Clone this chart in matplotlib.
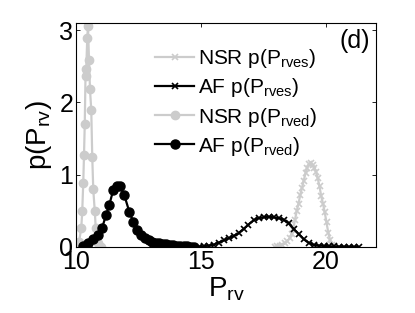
import matplotlib
matplotlib.use('Agg')
import matplotlib.pyplot as plt

plt.rcParams['font.family'] = ['Liberation Sans', 'DejaVu Sans']
plt.rcParams['mathtext.fontset'] = 'custom'
plt.rcParams['mathtext.rm'] = 'Liberation Sans'
plt.rcParams['mathtext.it'] = 'Liberation Sans:italic'

# NSR p(P_rves), grey crosses
nsr_es_x = [17.95, 18.05, 18.15, 18.25, 18.35, 18.45, 18.55, 18.62, 18.69, 18.76,
            18.83, 18.90, 18.97, 19.04, 19.11, 19.18, 19.25, 19.32, 19.39, 19.46,
            19.53, 19.60, 19.67, 19.74, 19.81, 19.88, 19.95, 20.02, 20.09, 20.16, 20.23]
nsr_es_y = [0.0, 0.01, 0.02, 0.03, 0.05, 0.08, 0.12, 0.18, 0.25, 0.38,
            0.50, 0.60, 0.72, 0.82, 0.92, 1.02, 1.10, 1.15, 1.16, 1.14,
            1.10, 1.04, 0.95, 0.84, 0.70, 0.60, 0.48, 0.34, 0.20, 0.10, 0.03]

# AF p(P_rves), black crosses
af_es_x = [14.7, 14.9, 15.1, 15.3, 15.5, 15.7, 15.9, 16.1, 16.3, 16.5, 16.7, 16.9,
           17.1, 17.3, 17.5, 17.7, 17.9, 18.1, 18.3, 18.5, 18.7, 18.9, 19.1, 19.3,
           19.5, 19.7, 19.9, 20.1, 20.3, 20.5, 20.7, 20.9, 21.1, 21.3]
af_es_y = [0.003, 0.005, 0.01, 0.02, 0.03, 0.06, 0.09, 0.12, 0.15, 0.19, 0.25, 0.31,
           0.37, 0.40, 0.41, 0.42, 0.41, 0.40, 0.38, 0.33, 0.25, 0.18, 0.11, 0.06,
           0.03, 0.02, 0.015, 0.01, 0.008, 0.006, 0.005, 0.004, 0.003, 0.002]

# NSR p(P_rved), grey circles
nsr_ed_x = [10.05, 10.12, 10.21, 10.25, 10.29, 10.32, 10.35, 10.38, 10.41, 10.45,
            10.48, 10.52, 10.56, 10.61, 10.65, 10.69, 10.75, 10.79, 10.88, 10.98]
nsr_ed_y = [0.0, 0.07, 0.26, 0.50, 0.89, 1.27, 1.70, 2.36, 2.47, 2.89,
            3.06, 2.59, 2.18, 1.90, 1.25, 0.80, 0.50, 0.26, 0.05, 0.0]

# AF p(P_rved), black circles
af_ed_x = [10.27, 10.47, 10.67, 10.87, 11.04, 11.20, 11.33, 11.49, 11.63, 11.76,
           11.93, 12.13, 12.29, 12.45, 12.60, 12.75, 12.90, 13.04, 13.18, 13.32,
           13.46, 13.60, 13.74, 13.88, 14.02, 14.16, 14.30, 14.44, 14.58, 14.72]
af_ed_y = [0.01, 0.06, 0.11, 0.17, 0.26, 0.44, 0.58, 0.79, 0.84, 0.84,
           0.72, 0.49, 0.35, 0.23, 0.16, 0.12, 0.09, 0.07, 0.06, 0.05,
           0.04, 0.035, 0.03, 0.025, 0.02, 0.015, 0.012, 0.01, 0.006, 0.003]

grey = (0.8, 0.8, 0.8)

fig = plt.figure(figsize=(4.15, 3.13), dpi=100)
ax = fig.add_axes([76 / 415, 66 / 313, 300 / 415, 224 / 313])

ax.plot(nsr_es_x, nsr_es_y, '-x', color=grey, lw=1.6, ms=5, mew=1.2,
        label=r'NSR p($\mathregular{P_{rves}}$)')
ax.plot(af_es_x, af_es_y, '-x', color='black', lw=1.6, ms=5, mew=1.2,
        label=r'AF p($\mathregular{P_{rves}}$)')
ax.plot(nsr_ed_x, nsr_ed_y, '-o', color=grey, lw=1.6, ms=6,
        label=r'NSR p($\mathregular{P_{rved}}$)')
ax.plot(af_ed_x, af_ed_y, '-o', color='black', lw=1.6, ms=6.5,
        label=r'AF p($\mathregular{P_{rved}}$)')

ax.set_xlim(10, 22)
ax.set_ylim(0, 3.1)
ax.set_xticks([10, 15, 20])
ax.set_yticks([0, 1, 2, 3])
ax.tick_params(direction='in', length=3, width=0.6, labelsize=18, pad=2,
               top=True, right=True)
for s in ax.spines.values():
    s.set_linewidth(0.8)

ax.set_xlabel(r'$\mathregular{P_{rv}}$', fontsize=20, labelpad=1)
ax.set_ylabel(r'p($\mathregular{P_{rv}}$)', fontsize=20, labelpad=4)

ax.text(0.98, 0.975, '(d)', transform=ax.transAxes, ha='right', va='top',
        fontsize=18)

ax.legend(loc='upper left', bbox_to_anchor=(0.235, 0.93), frameon=False,
          fontsize=15, labelspacing=0.3, handlelength=1.9, handletextpad=0.15,
          borderaxespad=0)

fig.savefig('out.png', dpi=100)
